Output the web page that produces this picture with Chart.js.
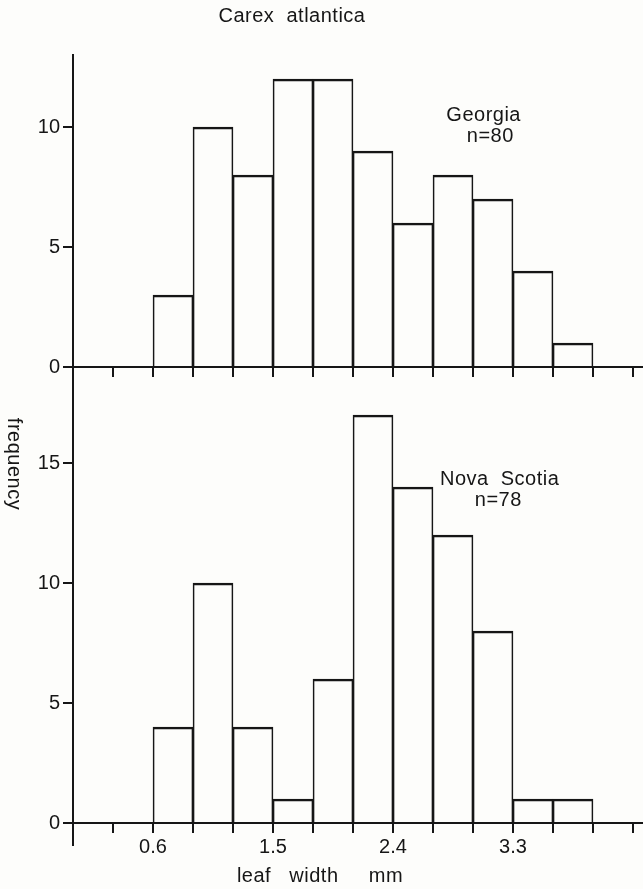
<!DOCTYPE html>
<html>
<head>
<meta charset="utf-8">
<title>Carex atlantica</title>
<script src="https://cdn.jsdelivr.net/npm/chart.js"></script>
<style>
  html, body { margin: 0; padding: 0; background: #fdfdfb; }
  #chart-wrap { width: 643px; height: 889px; }
</style>
</head>
<body>
<div id="chart-wrap"><canvas id="leaf-width-chart" width="643" height="889"></canvas></div>
<script>
// leaf width classes (mm): lower bound of each 0.3 mm bin
const binStarts = [0.6, 0.9, 1.2, 1.5, 1.8, 2.1, 2.4, 2.7, 3.0, 3.3, 3.6];
const binWidth = 0.3;
const georgiaCounts = [3, 10, 8, 12, 12, 9, 6, 8, 7, 4, 1];
const novaScotiaCounts = [4, 10, 4, 1, 6, 17, 14, 12, 8, 1, 1];
const xTickLabels = [0.6, 1.5, 2.4, 3.3];
const yTickStep = 5;

const INK = '#161616';
const FONT = '"Liberation Sans", Arial, sans-serif';

Chart.defaults.font.family = FONT;
Chart.defaults.font.size = 20;
Chart.defaults.color = INK;

function toBars(counts) {
    return binStarts.map((start, i) => ({ x: start + binWidth / 2, y: counts[i] }));
}

function total(counts) {
    return counts.reduce((a, b) => a + b, 0);
}

const histStyle = {
    backgroundColor: 'rgba(0,0,0,0)',
    borderColor: INK,
    borderWidth: { top: 2, left: 1, right: 1, bottom: 0 },
    borderSkipped: 'start',
    barPercentage: 1,
    categoryPercentage: 1,
    grouped: false
};

function yAxis(max, weight) {
    return {
        type: 'linear',
        position: 'left',
        stack: 'panels',
        stackWeight: max,
        weight: weight,
        min: 0,
        max: max,
        ticks: { stepSize: yTickStep, includeBounds: false, padding: 3 },
        grid: { drawOnChartArea: false, tickLength: 10, color: INK, lineWidth: 2 },
        border: { color: INK, width: 2 },
        afterFit: scale => { scale.width = 73; }
    };
}

// baseline of the upper panel, axis stub, and all captions
const panelDecor = {
    id: 'panelDecor',
    afterDraw(chart) {
        const { ctx, chartArea, scales: { x, yTop, yBot } } = chart;
        ctx.save();
        ctx.strokeStyle = INK;
        ctx.lineWidth = 2;
        ctx.beginPath();
        const y0 = yTop.getPixelForValue(0);
        ctx.moveTo(chartArea.left, y0);
        ctx.lineTo(chartArea.right, y0);
        x.ticks.forEach(t => {
            const px = x.getPixelForValue(t.value);
            ctx.moveTo(px, y0);
            ctx.lineTo(px, y0 + 10);
        });
        const yb = yBot.getPixelForValue(0);
        ctx.moveTo(chartArea.left, yb);
        ctx.lineTo(chartArea.left, yb + 23);
        ctx.stroke();

        ctx.fillStyle = INK;
        ctx.font = '20px ' + FONT;
        ctx.letterSpacing = '0.5px';
        ctx.textAlign = 'center';
        ctx.textBaseline = 'alphabetic';

        ctx.fillText('Carex  atlantica', 292, 22);
        ctx.fillText('leaf   width     mm', 320, 882);

        ctx.fillText('Georgia', x.getPixelForValue(3.08), yTop.getPixelForValue(10.25));
        ctx.fillText('n=' + total(georgiaCounts), x.getPixelForValue(3.13), yTop.getPixelForValue(9.375));
        ctx.fillText('Nova  Scotia', x.getPixelForValue(3.2), yBot.getPixelForValue(14.08));
        ctx.fillText('n=' + total(novaScotiaCounts), x.getPixelForValue(3.19), yBot.getPixelForValue(13.2));

        ctx.translate(14, 464);
        ctx.rotate(Math.PI / 2);
        ctx.textBaseline = 'middle';
        ctx.fillText('frequency', 0, 0);
        ctx.restore();
    }
};

const ctx = document.getElementById('leaf-width-chart').getContext('2d');
new Chart(ctx, {
    type: 'bar',
    data: {
        datasets: [
            Object.assign({ label: 'Georgia', data: toBars(georgiaCounts), yAxisID: 'yTop' }, histStyle),
            Object.assign({ label: 'Nova Scotia', data: toBars(novaScotiaCounts), yAxisID: 'yBot' }, histStyle)
        ]
    },
    options: {
        responsive: false,
        animation: false,
        layout: { padding: { top: 55, left: 0, right: 0, bottom: 0 } },
        plugins: {
            legend: { display: false },
            title: { display: false },
            tooltip: { enabled: false }
        },
        scales: {
            x: {
                type: 'linear',
                position: 'bottom',
                min: 0,
                max: 4.275,
                offset: false,
                ticks: {
                    stepSize: binWidth,
                    includeBounds: false,
                    autoSkip: false,
                    maxRotation: 0,
                    padding: 2,
                    callback: value => xTickLabels.some(t => Math.abs(t - value) < 1e-6) ? value.toFixed(1) : ''
                },
                grid: { drawOnChartArea: false, offset: false, tickLength: 10, color: INK, lineWidth: 2 },
                border: { color: INK, width: 2 },
                afterFit: scale => { scale.height = 66; }
            },
            yTop: yAxis(13, 2),
            yBot: yAxis(19, 1)
        }
    },
    plugins: [panelDecor]
});
</script>
</body>
</html>
